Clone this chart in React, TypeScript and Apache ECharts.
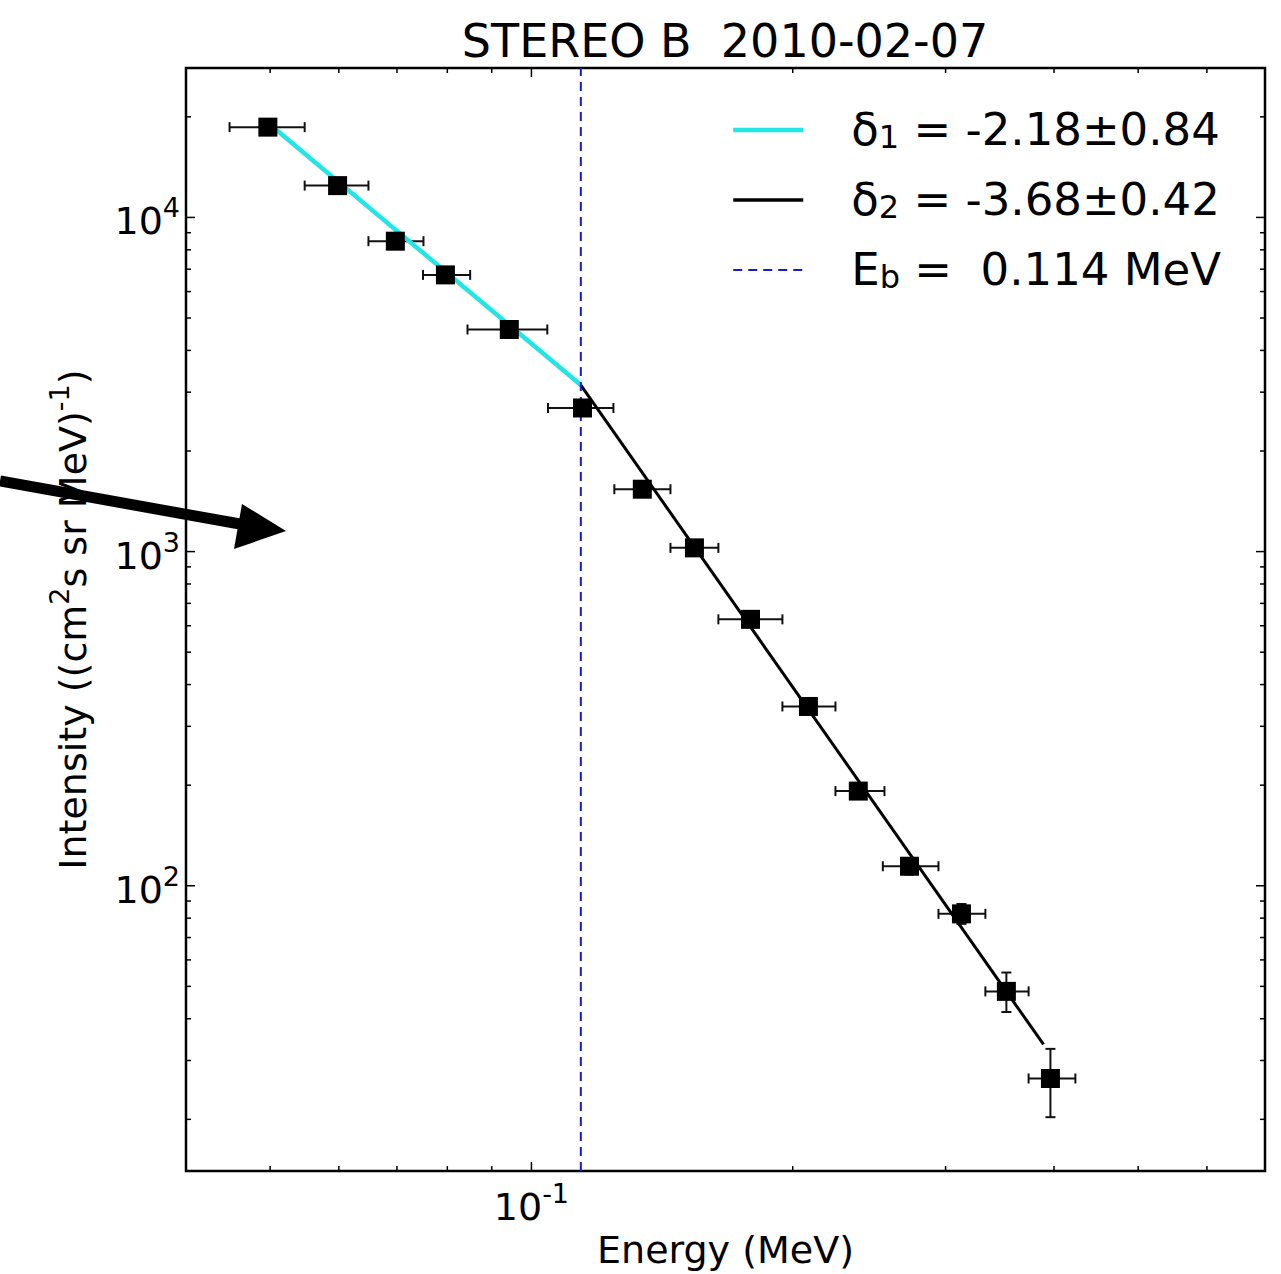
import React, { useEffect, useRef } from "react";
import * as echarts from "echarts";

const FONT = "DejaVu Sans";

// Energy channels (MeV): bin centres and bin edges
const energy = [0.0497, 0.0598, 0.0697, 0.0796, 0.0943, 0.1145, 0.1342, 0.1541, 0.1788, 0.2085, 0.238, 0.2726, 0.3129, 0.3525, 0.3962];
const energyLow = [0.0449, 0.0548, 0.0649, 0.075, 0.0844, 0.1045, 0.1246, 0.1446, 0.1642, 0.1946, 0.224, 0.254, 0.2944, 0.3334, 0.3739];
const energyHigh = [0.0548, 0.0649, 0.0751, 0.085, 0.1043, 0.1243, 0.1446, 0.1642, 0.1946, 0.224, 0.2551, 0.2944, 0.3334, 0.3739, 0.4233];

// Intensity ((cm^2 s sr MeV)^-1) with lower / upper error limits
const intensity = [18630, 12450, 8490, 6730, 4620, 2690, 1537, 1026, 627, 344, 192, 114.4, 82.4, 48.3, 26.5];
const intensityLow = [18100, 12100, 8250, 6530, 4480, 2610, 1490, 995, 606, 331, 184, 108, 76.9, 41.9, 20.3];
const intensityHigh = [19160, 12800, 8730, 6930, 4760, 2770, 1584, 1057, 648, 357, 200, 121, 88.2, 55.0, 32.5];

// Broken power-law fit: segment below and above the break energy
const breakEnergy = 0.114;
const fitLowEnergy = [0.0497, 0.114];
const fitLowIntensity = [19200, 3150];
const fitHighEnergy = [0.114, 0.389];
const fitHighIntensity = [3150, 33.5];

// Axis extents
const xRange = [0.04, 0.7];
const yRange = [14, 28000];

const CYAN = "#22e6e6";
const BLUE = "#1a1acc";

const legendTexts: Record<string, string> = {
  delta1: "{t|δ}{s|1}{t| = -2.18±0.84}",
  delta2: "{t|δ}{s|2}{t| = -3.68±0.42}",
  break: "{t|E}{s|b}{t| =  0.114 MeV}",
};

// Decade and sub-decade tick positions within [min, max]
function logTicks(min: number, max: number): [number, number][] {
  const out: [number, number][] = [];
  for (let k = Math.floor(Math.log10(min)); k <= Math.ceil(Math.log10(max)); k++) {
    for (let m = 1; m <= 9; m++) {
      const v = m * Math.pow(10, k);
      if (v >= min * 0.9999 && v <= max * 1.0001) out.push([v, m === 1 ? 1 : 0]);
    }
  }
  return out;
}

function powerLabel(v: number): string {
  const e = Math.log10(v);
  if (Math.abs(e - Math.round(e)) > 1e-6) return "";
  return "{b|10}{p|" + Math.round(e) + "}";
}

const supRich = {
  b: { fontFamily: FONT, fontSize: 38, lineHeight: 46, verticalAlign: "bottom", color: "#000" },
  p: { fontFamily: FONT, fontSize: 27, lineHeight: 20, verticalAlign: "top", color: "#000" },
};

export default function App() {
  const ref = useRef<HTMLDivElement>(null);

  useEffect(() => {
    if (!ref.current) return;
    const chart = echarts.init(ref.current, undefined, { renderer: "svg" });

    const tickData = [
      ...logTicks(xRange[0], xRange[1]).map(([v, major]) => [v, yRange[0], major, 0]),
      ...logTicks(yRange[0], yRange[1]).map(([v, major]) => [xRange[0], v, major, 1]),
    ];

    const points = energy.map((e, i) => [e, intensity[i], energyLow[i], energyHigh[i], intensityLow[i], intensityHigh[i]]);

    const option: any = {
      animation: false,
      backgroundColor: "#fff",
      title: {
        text: "STEREO B  2010-02-07",
        left: 725,
        top: 18,
        padding: 0,
        textAlign: "center",
        textStyle: { fontFamily: FONT, fontSize: 46, fontWeight: "normal", color: "#000" },
      },
      legend: {
        data: [
          { name: "delta1", lineStyle: { color: CYAN, width: 4.5 } },
          { name: "delta2", lineStyle: { color: "#000", width: 3.5 } },
          { name: "break", lineStyle: { color: BLUE, width: 2, type: [9, 6] } },
        ],
        orient: "vertical",
        left: 731,
        top: 107,
        padding: 0,
        itemWidth: 70,
        itemHeight: 14,
        itemGap: 24,
        selectedMode: false,
        itemStyle: { opacity: 0 },
        formatter: (n: string) => legendTexts[n],
        textStyle: {
          fontFamily: FONT,
          fontSize: 45,
          color: "#000",
          padding: [0, 0, 0, 43],
          rich: {
            t: { fontFamily: FONT, fontSize: 45, lineHeight: 46, verticalAlign: "top", color: "#000" },
            s: { fontFamily: FONT, fontSize: 32, lineHeight: 16, verticalAlign: "bottom", color: "#000" },
          },
        },
      },
      grid: { left: 186, top: 68, right: 16, bottom: 96, show: true, borderColor: "#000", borderWidth: 2.5, backgroundColor: "transparent" },
      xAxis: {
        type: "log",
        logBase: 10,
        min: xRange[0],
        max: xRange[1],
        name: "Energy (MeV)",
        nameLocation: "middle",
        nameGap: 57,
        nameTextStyle: { fontFamily: FONT, fontSize: 38, color: "#000" },
        axisLine: { show: false },
        axisTick: { show: false },
        splitLine: { show: false },
        axisLabel: { margin: 9, formatter: powerLabel, rich: supRich, showMinLabel: true, showMaxLabel: true },
      },
      yAxis: {
        type: "log",
        logBase: 10,
        min: yRange[0],
        max: yRange[1],
        name: "{t|Intensity ((cm}{p|2}{t|s sr MeV)}{p|-1}{t|)}",
        nameLocation: "middle",
        nameRotate: 90,
        nameGap: 94,
        nameTextStyle: {
          fontFamily: FONT,
          fontSize: 38,
          color: "#000",
          rich: {
            t: { fontFamily: FONT, fontSize: 38, lineHeight: 46, verticalAlign: "bottom", color: "#000" },
            p: { fontFamily: FONT, fontSize: 27, lineHeight: 20, verticalAlign: "top", color: "#000" },
          },
        },
        axisLine: { show: false },
        axisTick: { show: false },
        splitLine: { show: false },
        axisLabel: { margin: 6, formatter: powerLabel, rich: supRich },
      },
      series: [
        {
          // tick marks on all four sides of the frame, pointing inward
          type: "custom",
          silent: true,
          z: 1,
          data: tickData,
          encode: { x: 0, y: 1 },
          renderItem: (params: any, api: any) => {
            const cs = params.coordSys;
            const p = api.coord([api.value(0), api.value(1)]);
            const len = api.value(2) ? 9 : 5;
            const style = { stroke: "#000", lineWidth: 1.5 };
            if (api.value(3) === 0) {
              const x = p[0];
              const b = cs.y + cs.height;
              const t = cs.y;
              return {
                type: "group",
                children: [
                  { type: "line", shape: { x1: x, y1: b, x2: x, y2: b - len }, style },
                  { type: "line", shape: { x1: x, y1: t, x2: x, y2: t + len }, style },
                ],
              };
            }
            const y = p[1];
            const l = cs.x;
            const r = cs.x + cs.width;
            return {
              type: "group",
              children: [
                { type: "line", shape: { x1: l, y1: y, x2: l + len, y2: y }, style },
                { type: "line", shape: { x1: r, y1: y, x2: r - len, y2: y }, style },
              ],
            };
          },
        },
        {
          // error bars with caps
          type: "custom",
          silent: true,
          z: 2,
          data: points,
          encode: { x: 0, y: 1 },
          renderItem: (_params: any, api: any) => {
            const e = api.value(0);
            const v = api.value(1);
            const c = api.coord([e, v]);
            const l = api.coord([api.value(2), v]);
            const r = api.coord([api.value(3), v]);
            const lo = api.coord([e, api.value(4)]);
            const hi = api.coord([e, api.value(5)]);
            const cap = 5;
            const style = { stroke: "#111", lineWidth: 2 };
            return {
              type: "group",
              children: [
                { type: "line", shape: { x1: l[0], y1: c[1], x2: r[0], y2: c[1] }, style },
                { type: "line", shape: { x1: l[0], y1: c[1] - cap, x2: l[0], y2: c[1] + cap }, style },
                { type: "line", shape: { x1: r[0], y1: c[1] - cap, x2: r[0], y2: c[1] + cap }, style },
                { type: "line", shape: { x1: c[0], y1: hi[1], x2: c[0], y2: lo[1] }, style },
                { type: "line", shape: { x1: c[0] - cap, y1: hi[1], x2: c[0] + cap, y2: hi[1] }, style },
                { type: "line", shape: { x1: c[0] - cap, y1: lo[1], x2: c[0] + cap, y2: lo[1] }, style },
              ],
            };
          },
        },
        {
          name: "delta1",
          type: "line",
          z: 3,
          symbol: "none",
          silent: true,
          data: fitLowEnergy.map((e, i) => [e, fitLowIntensity[i]]),
          lineStyle: { color: CYAN, width: 4.5 },
          itemStyle: { color: CYAN },
        },
        {
          name: "delta2",
          type: "line",
          z: 3,
          symbol: "none",
          silent: true,
          data: fitHighEnergy.map((e, i) => [e, fitHighIntensity[i]]),
          lineStyle: { color: "#000", width: 3 },
          itemStyle: { color: "#000" },
        },
        {
          name: "break",
          type: "line",
          z: 3,
          symbol: "none",
          silent: true,
          data: [
            [breakEnergy, yRange[0]],
            [breakEnergy, yRange[1]],
          ],
          lineStyle: { color: BLUE, width: 2, type: [9, 6] },
          itemStyle: { color: BLUE },
        },
        {
          name: "data",
          type: "scatter",
          z: 4,
          symbol: "rect",
          symbolSize: 19,
          silent: true,
          data: energy.map((e, i) => [e, intensity[i]]),
          itemStyle: { color: "#000", opacity: 1 },
        },
      ],
      graphic: [
        // annotation arrow pointing into the plot
        {
          type: "line",
          shape: { x1: 0, y1: 481, x2: 240, y2: 524 },
          style: { stroke: "#000", lineWidth: 11 },
          z: 10,
        },
        {
          type: "polygon",
          shape: { points: [[242, 504], [286, 531], [234, 549]] },
          style: { fill: "#000" },
          z: 10,
        },
      ],
    };

    chart.setOption(option);
    return () => chart.dispose();
  }, []);

  return (
    <div
      ref={ref}
      style={{ position: "fixed", left: 0, top: 0, width: 1281, height: 1274, background: "#fff" }}
    />
  );
}
